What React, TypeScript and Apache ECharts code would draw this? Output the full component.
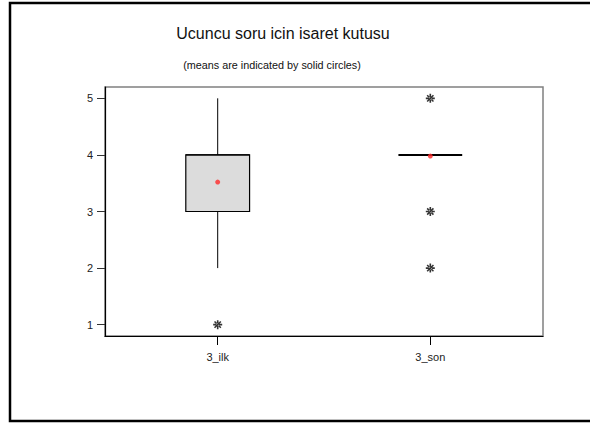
import React, { useEffect, useRef } from "react";
import * as echarts from "echarts";

const categories = ["3_ilk", "3_son"];
// [position, low whisker, Q1, median, Q3, high whisker]
const boxStats = [
  [1, 2, 3, 4, 4, 5],
  [2, 4, 4, 4, 4, 4],
];
const outliers = [
  [1, 1],
  [2, 5],
  [2, 3],
  [2, 2],
];
const means = [
  [1, 3.52],
  [2, 3.98],
];
const yTicks = [1, 2, 3, 4, 5];
const xTicks = [1, 2];
const title = "Ucuncu soru icin isaret kutusu";
const subtitle = "(means are indicated by solid circles)";

const asterisk =
  "path://M-0.9,-5H0.9V5H-0.9Z M-5,-0.9H5V0.9H-5Z M2.9,4.1L4.1,2.9L-2.9,-4.1L-4.1,-2.9Z M-2.9,4.1L-4.1,2.9L2.9,-4.1L4.1,-2.9Z";

export default function App() {
  const ref = useRef<HTMLDivElement>(null);
  useEffect(() => {
    if (!ref.current) return;
    const chart = echarts.init(ref.current, null, { renderer: "svg" });
    const font = "Liberation Sans, Arial, sans-serif";
    chart.setOption({
      animation: false,
      backgroundColor: "#fff",
      textStyle: { fontFamily: font },
      grid: {
        left: 105,
        top: 87,
        right: 47,
        bottom: 90,
        show: true,
        borderColor: "#808080",
        borderWidth: 1.5,
      },
      xAxis: {
        type: "value",
        min: 0.47,
        max: 2.53,
        splitLine: { show: false },
        axisLine: { show: true, lineStyle: { color: "#000", width: 1.2 } },
        axisTick: {
          show: true,
          customValues: xTicks,
          length: 9,
          lineStyle: { color: "#000" },
        },
        axisLabel: {
          customValues: xTicks,
          margin: 15,
          fontSize: 11,
          color: "#222",
          fontFamily: font,
          formatter: (v: number) => categories[Math.round(v) - 1] ?? "",
        },
      },
      yAxis: {
        type: "value",
        min: 0.8,
        max: 5.2,
        splitLine: { show: false },
        axisLine: { show: true, lineStyle: { color: "#000", width: 1.2 } },
        axisTick: {
          show: true,
          customValues: yTicks,
          length: 8,
          lineStyle: { color: "#333" },
        },
        axisLabel: {
          customValues: yTicks,
          margin: 12,
          fontSize: 11,
          color: "#222",
          fontFamily: font,
        },
      },
      graphic: [
        {
          type: "rect",
          shape: { x: 10, y: 3, width: 640, height: 418 },
          style: { fill: "none", stroke: "#000", lineWidth: 2.5 },
          silent: true,
        },
        {
          type: "text",
          x: 283,
          y: 33,
          style: {
            text: title,
            fontSize: 16,
            fontFamily: font,
            fill: "#111",
            textAlign: "center",
            textVerticalAlign: "middle",
          },
        },
        {
          type: "text",
          x: 272,
          y: 65,
          style: {
            text: subtitle,
            fontSize: 10.8,
            fontFamily: font,
            fill: "#111",
            textAlign: "center",
            textVerticalAlign: "middle",
          },
        },
      ],
      series: [
        {
          type: "custom",
          data: boxStats,
          encode: { x: 0, y: [1, 2, 3, 4, 5] },
          renderItem: (params: any, api: any) => {
            const x = api.value(0);
            const lo = api.coord([x, api.value(1)]);
            const q1 = api.coord([x, api.value(2)]);
            const md = api.coord([x, api.value(3)]);
            const q3 = api.coord([x, api.value(4)]);
            const hi = api.coord([x, api.value(5)]);
            const half = api.size([0.3, 0])[0] / 2;
            const cx = lo[0];
            const children: any[] = [];
            const flat = Math.abs(q1[1] - q3[1]) < 0.5;
            if (!flat) {
              children.push({
                type: "rect",
                shape: { x: cx - half, y: q3[1], width: half * 2, height: q1[1] - q3[1] },
                style: { fill: "#dcdcdc", stroke: "#000", lineWidth: 1.2 },
              });
            }
            children.push({
              type: "line",
              shape: { x1: cx - half, y1: md[1], x2: cx + half, y2: md[1] },
              style: { stroke: "#000", lineWidth: flat ? 2 : 1.2 },
            });
            if (hi[1] < q3[1] - 0.5) {
              children.push({
                type: "line",
                shape: { x1: cx, y1: q3[1], x2: cx, y2: hi[1] },
                style: { stroke: "#000", lineWidth: 1 },
              });
            }
            if (lo[1] > q1[1] + 0.5) {
              children.push({
                type: "line",
                shape: { x1: cx, y1: q1[1], x2: cx, y2: lo[1] },
                style: { stroke: "#000", lineWidth: 1 },
              });
            }
            return { type: "group", children };
          },
          z: 2,
        },
        {
          type: "scatter",
          data: outliers,
          symbol: asterisk,
          symbolSize: 9,
          itemStyle: { color: "#000" },
          z: 3,
        },
        {
          type: "scatter",
          data: means,
          symbol: "circle",
          symbolSize: 5,
          itemStyle: { color: "#ff2a2a" },
          z: 4,
        },
      ],
    });
    return () => chart.dispose();
  }, []);
  return (
    <div
      ref={ref}
      style={{ position: "fixed", left: 0, top: 0, width: 590, height: 426 }}
    />
  );
}
